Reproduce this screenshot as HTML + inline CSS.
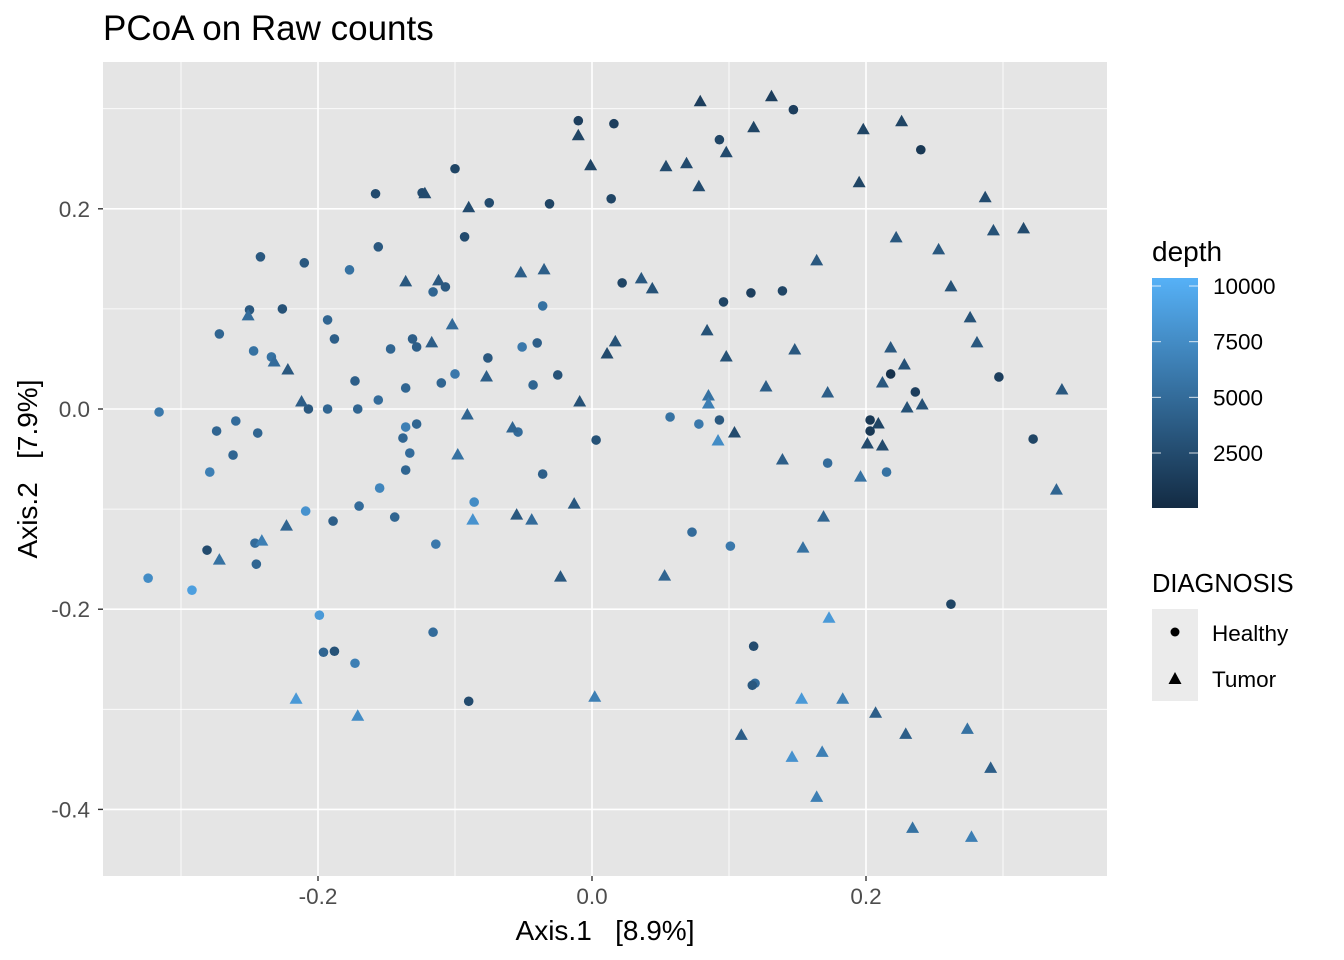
<!DOCTYPE html>
<html><head><meta charset="utf-8"><style>
body{margin:0;background:#fff;}
svg{display:block;font-family:"Liberation Sans",Arial,sans-serif;}
</style></head><body>
<svg id="chart" width="1344" height="960">
<text x="103" y="40" font-size="35" fill="#000">PCoA on Raw counts</text>
<rect x="103" y="62" width="1004" height="814" fill="#E5E5E5"/>
<g id="grid"></g>
<g id="pts"></g>
<g id="axes"></g>
<text x="605" y="940" font-size="28" text-anchor="middle" style="white-space:pre">Axis.1   [8.9%]</text>
<text transform="translate(37,469) rotate(-90)" font-size="28" text-anchor="middle" style="white-space:pre">Axis.2   [7.9%]</text>
<g>
<text x="1152" y="261" font-size="28">depth</text>
<defs><linearGradient id="gr" x1="0" y1="1" x2="0" y2="0"><stop offset="0" stop-color="#132B43"/><stop offset="1" stop-color="#56B1F7"/></linearGradient></defs>
<rect x="1152" y="278" width="46" height="230" fill="url(#gr)"/>
<g id="lg"></g>
</g>
<g>
<text x="1152" y="592" font-size="25.5">DIAGNOSIS</text>
<rect x="1152" y="609" width="46" height="92" fill="#EBEBEB"/>
<circle cx="1175" cy="632" r="4.5" fill="#000"/>
<polygon points="1175,672 1181.5,684 1168.5,684" fill="#000"/>
<text x="1212" y="641" font-size="22.5">Healthy</text>
<text x="1212" y="687" font-size="22.5">Tumor</text>
</g>
</svg>
<script>
const xTicks=[-0.2,0.0,0.2];
const yTicks=[0.2,0.0,-0.2,-0.4];
const xMinor=[-0.3,-0.1,0.1,0.3];
const yMinor=[0.3,0.1,-0.1,-0.3];
const depthTicks=[2500,5000,7500,10000];
const healthyX=[-0.010,0.016,0.147,0.240,0.093,0.014,-0.031,-0.075,-0.100,-0.158,-0.124,-0.093,-0.156,-0.242,-0.210,-0.250,-0.226,-0.272,-0.247,-0.234,-0.193,-0.188,-0.177,-0.147,-0.131,-0.128,-0.116,-0.107,-0.136,-0.110,-0.100,-0.076,-0.040,-0.051,-0.036,0.022,0.096,0.116,0.139,-0.025,-0.043,-0.173,-0.171,-0.156,-0.207,-0.193,-0.260,-0.244,-0.274,-0.262,-0.279,-0.316,-0.136,-0.133,-0.138,-0.128,-0.136,-0.054,-0.036,0.003,0.057,0.078,0.093,0.172,0.203,0.203,0.218,0.236,0.297,0.322,0.215,0.073,0.101,0.262,0.118,0.119,0.117,-0.090,-0.116,-0.114,-0.086,-0.170,-0.155,-0.144,-0.189,-0.209,-0.281,-0.246,-0.245,-0.324,-0.292,-0.199,-0.196,-0.188,-0.173];
const healthyY=[0.288,0.285,0.299,0.259,0.269,0.210,0.205,0.206,0.240,0.215,0.216,0.172,0.162,0.152,0.146,0.099,0.100,0.075,0.058,0.052,0.089,0.070,0.139,0.060,0.070,0.062,0.117,0.122,0.021,0.026,0.035,0.051,0.066,0.062,0.103,0.126,0.107,0.116,0.118,0.034,0.024,0.028,0.000,0.009,0.000,0.000,-0.012,-0.024,-0.022,-0.046,-0.063,-0.003,-0.018,-0.044,-0.029,-0.015,-0.061,-0.023,-0.065,-0.031,-0.008,-0.015,-0.011,-0.054,-0.022,-0.011,0.035,0.017,0.032,-0.030,-0.063,-0.123,-0.137,-0.195,-0.237,-0.274,-0.276,-0.292,-0.223,-0.135,-0.093,-0.097,-0.079,-0.108,-0.112,-0.102,-0.141,-0.134,-0.155,-0.169,-0.181,-0.206,-0.243,-0.242,-0.254];
const healthyDepth=[1500,1500,1500,1000,2000,2000,2000,2500,2000,2500,2500,2500,3500,3500,3500,3500,3000,4500,5500,5500,4500,4000,5500,4500,4000,4000,4500,3500,4500,4500,6000,3500,4000,6000,5500,2000,2000,1500,2000,3000,4500,4000,4500,5000,3500,4500,5000,4500,4500,4500,6500,6000,6500,5000,4500,4500,4500,5000,4000,3000,5500,6000,3500,5000,1000,1000,500,1500,1500,2000,5500,5000,6000,2000,2500,5000,3500,2500,5000,6000,7500,5000,7000,4500,4000,8000,2500,5000,4500,7500,9000,8500,4500,3000,6500];
const tumorX=[0.079,0.131,-0.010,-0.001,0.054,0.069,0.078,0.098,0.118,0.198,0.195,0.226,0.287,0.293,0.315,0.222,0.253,0.262,0.276,0.281,0.343,0.339,0.164,0.148,0.172,0.084,0.098,0.036,0.044,0.011,0.017,-0.009,-0.035,-0.052,-0.090,-0.122,-0.112,-0.136,-0.117,-0.102,-0.077,-0.091,-0.098,-0.058,-0.055,-0.044,-0.013,-0.023,0.002,0.053,0.085,0.085,0.092,0.104,0.127,0.139,0.154,0.169,0.196,0.201,0.212,0.212,0.209,0.218,0.228,0.230,0.241,-0.232,-0.222,-0.212,-0.251,-0.223,-0.241,-0.272,-0.087,-0.216,-0.171,0.173,0.153,0.183,0.109,0.146,0.168,0.164,0.207,0.229,0.274,0.291,0.234,0.277];
const tumorY=[0.307,0.312,0.273,0.243,0.242,0.245,0.222,0.256,0.281,0.279,0.226,0.287,0.211,0.178,0.180,0.171,0.159,0.122,0.091,0.066,0.019,-0.081,0.148,0.059,0.016,0.078,0.052,0.130,0.120,0.055,0.067,0.007,0.139,0.136,0.201,0.215,0.128,0.127,0.066,0.084,0.032,-0.006,-0.046,-0.019,-0.106,-0.111,-0.095,-0.168,-0.288,-0.167,0.013,0.005,-0.032,-0.024,0.022,-0.051,-0.139,-0.108,-0.068,-0.035,0.026,-0.037,-0.015,0.061,0.044,0.001,0.004,0.047,0.039,0.007,0.093,-0.117,-0.132,-0.151,-0.111,-0.290,-0.307,-0.209,-0.290,-0.290,-0.326,-0.348,-0.343,-0.388,-0.304,-0.325,-0.320,-0.359,-0.419,-0.428];
const tumorDepth=[1500,1500,2000,2000,2500,2500,2500,2500,2000,2000,2000,2000,2500,3000,2500,3500,3500,3000,3000,3500,3500,4500,3500,3500,4000,3000,3000,3500,3000,2500,3000,3000,4000,4000,2500,2500,3500,3500,4000,5000,4000,4500,5500,4500,3500,5000,3500,3500,6500,4500,5500,6500,7500,2500,4000,4000,5500,4500,5500,2500,3500,2500,2000,3500,3000,3000,3000,5000,3500,4000,5000,4500,6500,5500,8000,8500,7500,8500,8500,6500,4000,8000,6500,6500,4000,4000,5500,4000,5500,6500];

const NS='http://www.w3.org/2000/svg';
const sx=v=>592+v*1370;
const sy=v=>409-v*1001;
const dmin=30,dmax=10360;
const ly=d=>508-(d-dmin)/(dmax-dmin)*230;
function col(d){const t=Math.max(0,Math.min(1,(d-dmin)/(dmax-dmin)));
 const a=[0x13,0x2B,0x43],b=[0x56,0xB1,0xF7];
 return 'rgb('+a.map((v,i)=>Math.round(v+(b[i]-v)*t)).join(',')+')';}
function mk(tag,at,parent){const e=document.createElementNS(NS,tag);for(const k in at)e.setAttribute(k,at[k]);parent.appendChild(e);return e;}
const grid=document.getElementById('grid'),axes=document.getElementById('axes'),pts=document.getElementById('pts'),lg=document.getElementById('lg');
xMinor.forEach(v=>{const e=mk('line',{x1:sx(v),x2:sx(v),y1:62,y2:876,stroke:'#fff','stroke-width':0.8},grid);

});
yMinor.forEach(v=>{const e=mk('line',{x1:103,x2:1107,y1:sy(v),y2:sy(v),stroke:'#fff','stroke-width':0.8},grid);

});
xTicks.forEach(v=>{const e=mk('line',{x1:sx(v),x2:sx(v),y1:62,y2:876,stroke:'#fff','stroke-width':1.6},grid);


const t=mk('line',{x1:sx(v),x2:sx(v),y1:876,y2:881,stroke:'#333','stroke-width':1.4},axes);


const l=mk('text',{x:sx(v),y:904,'font-size':22.5,fill:'#4D4D4D','text-anchor':'middle'},axes);l.textContent=v.toFixed(1);

});
yTicks.forEach(v=>{const e=mk('line',{x1:103,x2:1107,y1:sy(v),y2:sy(v),stroke:'#fff','stroke-width':1.6},grid);


const t=mk('line',{x1:98,x2:103,y1:sy(v),y2:sy(v),stroke:'#333','stroke-width':1.4},axes);


const l=mk('text',{x:90,y:sy(v)+8,'font-size':22.5,fill:'#4D4D4D','text-anchor':'end'},axes);l.textContent=v.toFixed(1);

});
healthyX.forEach((x,i)=>{const c=mk('circle',{cx:sx(x),cy:sy(healthyY[i]),r:4.8,fill:col(healthyDepth[i])},pts);

});
tumorX.forEach((x,i)=>{const X=sx(x),Y=sy(tumorY[i]);
const p=mk('polygon',{points:`${X},${Y-7} ${X+6.5},${Y+4.5} ${X-6.5},${Y+4.5}`,fill:col(tumorDepth[i])},pts);

});
depthTicks.forEach(d=>{const y=ly(d);
mk('line',{x1:1152,x2:1161,y1:y,y2:y,stroke:'#fff','stroke-width':1,opacity:0.8},lg);
mk('line',{x1:1189,x2:1198,y1:y,y2:y,stroke:'#fff','stroke-width':1,opacity:0.8},lg);
const l=mk('text',{x:1213,y:y+8,'font-size':22.5,fill:'#000'},lg);l.textContent=d;

});
</script>
</body></html>
